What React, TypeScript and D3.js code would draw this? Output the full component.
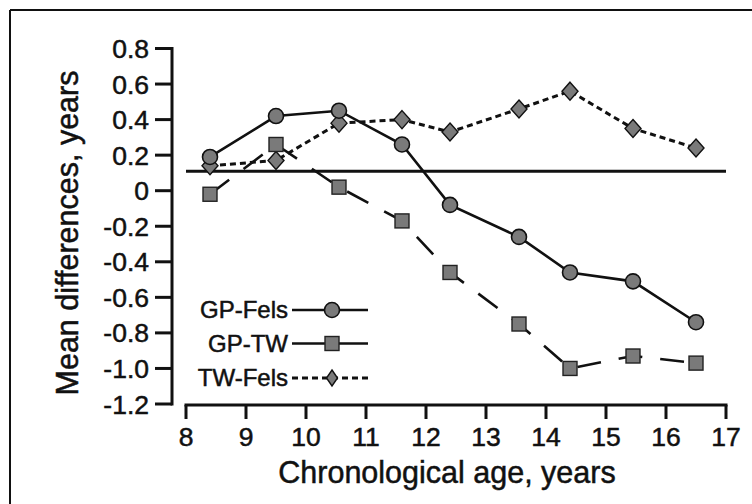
import * as d3 from 'd3';

const ages = [8.4, 9.5, 10.55, 11.6, 12.4, 13.55, 14.4, 15.45, 16.5];
const gpFels = [0.19, 0.42, 0.45, 0.26, -0.08, -0.26, -0.46, -0.51, -0.74];
const gpTw = [-0.02, 0.26, 0.02, -0.17, -0.46, -0.75, -1.0, -0.93, -0.97];
const twFels = [0.14, 0.17, 0.38, 0.4, 0.33, 0.46, 0.56, 0.35, 0.24];
const refValue = 0.11;

const xTicks = [8, 9, 10, 11, 12, 13, 14, 15, 16, 17];
const yTicks = [0.8, 0.6, 0.4, 0.2, 0, -0.2, -0.4, -0.6, -0.8, -1.0, -1.2];
const yTickLabels = ['0.8', '0.6', '0.4', '0.2', '0', '-0.2', '-0.4', '-0.6', '-0.8', '-1.0', '-1.2'];
const legendNames = ['GP-Fels', 'GP-TW', 'TW-Fels'];

const W = 752;
const H = 504;
const FONT = '"Liberation Sans", Arial, Helvetica, sans-serif';
const FILL = '#7a7a7a';
const INK = '#111';

export default function App() {
  const x = d3.scaleLinear().domain([8, 17]).range([186, 726]);
  const y = d3.scaleLinear().domain([-1.2, 0.8]).range([404, 48.5]);
  const axisX = 172;
  const axisY = 405;

  const line = d3.line<number>()
    .x((_, i) => x(ages[i]))
    .y(d => y(d));

  const circle = (cx: number, cy: number, k: string) => (
    <circle key={k} cx={cx} cy={cy} r={7.5} fill={FILL} stroke={INK} strokeWidth={1.6} />
  );
  const square = (cx: number, cy: number, k: string) => (
    <rect key={k} x={cx - 7} y={cy - 7} width={14} height={14} fill={FILL} stroke="#222" strokeWidth={1.4} />
  );
  const diamond = (cx: number, cy: number, k: string, w = 8, h = 9) => (
    <path key={k} d={`M${cx},${cy - h}L${cx + w},${cy}L${cx},${cy + h}L${cx - w},${cy}Z`}
      fill={FILL} stroke={INK} strokeWidth={1.4} />
  );

  // text gets a thin outline so it reads as heavy as the scanned original
  const txt = { fill: INK, stroke: INK, strokeWidth: 0.5 };

  const legendY = [310, 343.5, 378];
  const legX0 = 292;
  const legX1 = 368;
  const legMid = 332;

  return (
    <svg width={W} height={H} style={{ position: 'absolute', left: 0, top: 0, background: '#fff' }}
      fontFamily={FONT}>
      <rect x={0} y={0} width={W} height={H} fill="#fff" />
      {/* frame */}
      <line x1={10} y1={10} x2={W} y2={10} stroke={INK} strokeWidth={2} />
      <line x1={10} y1={10} x2={10} y2={H} stroke={INK} strokeWidth={2} />

      {/* y axis */}
      <line x1={axisX} y1={y(0.8) - 1.5} x2={axisX} y2={y(-1.2) + 1.5} stroke={INK} strokeWidth={3} />
      {yTicks.map((t, i) => (
        <g key={'yt' + i}>
          <line x1={axisX - 17} x2={axisX} y1={y(t)} y2={y(t)} stroke={INK} strokeWidth={3} />
          <text x={149} y={y(t) + 9.5} textAnchor="end" fontSize={26.5} {...txt}>{yTickLabels[i]}</text>
        </g>
      ))}

      {/* x axis */}
      <line x1={x(8) - 1.5} x2={x(17) + 1.5} y1={axisY} y2={axisY} stroke={INK} strokeWidth={3} />
      {xTicks.map(t => (
        <g key={'xt' + t}>
          <line x1={x(t)} x2={x(t)} y1={axisY} y2={axisY + 14} stroke={INK} strokeWidth={3} />
          <text x={x(t)} y={446} textAnchor="middle" fontSize={26.5} {...txt}>{t}</text>
        </g>
      ))}

      {/* axis titles */}
      <text x={447} y={483} textAnchor="middle" fontSize={30.5} {...txt}>Chronological age, years</text>
      <text transform={`translate(78,233) rotate(-90)`} textAnchor="middle" fontSize={30.5} {...txt}>
        Mean differences, years
      </text>

      {/* reference line */}
      <line x1={x(8)} x2={x(17)} y1={y(refValue)} y2={y(refValue)} stroke={INK} strokeWidth={3} />

      {/* series lines */}
      <path d={line(twFels) || ''} fill="none" stroke={INK} strokeWidth={3} strokeDasharray="6,4" />
      <path d={line(gpTw) || ''} fill="none" stroke={INK} strokeWidth={2.6} strokeDasharray="24,18" />
      <path d={line(gpFels) || ''} fill="none" stroke={INK} strokeWidth={2.6} />

      {/* markers */}
      {twFels.map((v, i) => diamond(x(ages[i]), y(v), 'd' + i))}
      {gpTw.map((v, i) => square(x(ages[i]), y(v), 's' + i))}
      {gpFels.map((v, i) => circle(x(ages[i]), y(v), 'c' + i))}

      {/* legend */}
      {legendNames.map((n, i) => (
        <text key={'lt' + i} x={288} y={legendY[i] + 8} textAnchor="end" fontSize={24} {...txt}>{n}</text>
      ))}
      <line x1={legX0} x2={legX1} y1={legendY[0]} y2={legendY[0]} stroke={INK} strokeWidth={2.4} />
      {circle(legMid, legendY[0], 'lc')}
      <line x1={legX0} x2={legX1} y1={legendY[1]} y2={legendY[1]} stroke={INK} strokeWidth={2.4} />
      {square(legMid, legendY[1], 'ls')}
      <line x1={legX0} x2={legX1} y1={legendY[2]} y2={legendY[2]} stroke={INK} strokeWidth={3} strokeDasharray="6,4" />
      {diamond(legMid, legendY[2], 'ld', 5.5, 8)}
    </svg>
  );
}
